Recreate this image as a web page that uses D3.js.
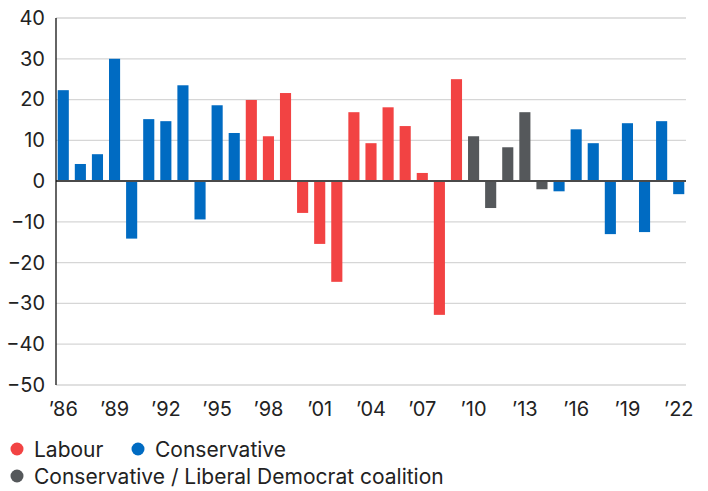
<!DOCTYPE html>
<html>
<head>
<meta charset="utf-8">
<script src="https://cdn.jsdelivr.net/npm/d3@7"></script>
<style>
  body { margin: 0; background: #fff; }
  svg { font-family: Inter, "Liberation Sans", sans-serif; }
</style>
</head>
<body>
<svg></svg>
<script>
// years and their values, party in power per year
let years = d3.range(1986, 2023);
let values = [22.3, 4.2, 6.6, 30, -14.1, 15.2, 14.7, 23.5, -9.4, 18.6, 11.8,
              19.9, 11.0, 21.6, -7.8, -15.4, -24.7, 16.9, 9.3, 18.1, 13.5, 2.0, -32.8, 25.0,
              11.0, -6.6, 8.3, 16.9, -2.0,
              -2.5, 12.7, 9.3, -13.0, 14.2, -12.5, 14.7, -3.2];
let parties = ["C","C","C","C","C","C","C","C","C","C","C",
               "L","L","L","L","L","L","L","L","L","L","L","L","L",
               "G","G","G","G","G",
               "C","C","C","C","C","C","C","C"];
let yTicks = [40, 30, 20, 10, 0, -10, -20, -30, -40, -50];
let tickYears = d3.range(1986, 2023, 3);

let colors = { L: "#f24343", C: "#006bc2", G: "#55585b" };

let width = 708, height = 491;
let plotLeft = 56, plotRight = 686, plotTop = 18, plotBottom = 385;

let svg = d3.select("svg").attr("width", width).attr("height", height);

let xScale = d3.scaleBand()
    .domain(years)
    .range([plotLeft, plotRight])
    .paddingInner(0.35)
    .paddingOuter(0.1);

let yScale = d3.scaleLinear()
    .domain([-50, 40])
    .range([plotBottom, plotTop]);

// gridlines
svg.append("g")
   .selectAll("line")
   .data(yTicks)
   .enter()
   .append("line")
   .attr("x1", plotLeft)
   .attr("x2", plotRight)
   .attr("y1", d => yScale(d))
   .attr("y2", d => yScale(d))
   .attr("stroke", "#d6d6d6")
   .attr("stroke-width", 1.3);

// y axis labels
let yAxis = d3.axisLeft(yScale).tickValues(yTicks).tickSize(0).tickPadding(11);
svg.append("g")
   .attr("transform", "translate(" + plotLeft + ",0)")
   .call(yAxis)
   .call(g => g.select(".domain").remove())
   .selectAll("text")
   .attr("font-size", 20)
   .attr("font-family", "Inter, 'Liberation Sans', sans-serif")
   .attr("fill", "#222");

// bars
svg.append("g")
   .selectAll("rect")
   .data(values)
   .enter()
   .append("rect")
   .attr("x", (d, i) => xScale(years[i]))
   .attr("width", xScale.bandwidth())
   .attr("y", d => yScale(Math.max(0, d)))
   .attr("height", d => Math.abs(yScale(d) - yScale(0)))
   .attr("fill", (d, i) => colors[parties[i]]);

// zero line
svg.append("line")
   .attr("x1", plotLeft).attr("x2", plotRight)
   .attr("y1", yScale(0)).attr("y2", yScale(0))
   .attr("stroke", "#4a4a4a")
   .attr("stroke-width", 2);

// left axis line
svg.append("line")
   .attr("x1", plotLeft).attr("x2", plotLeft)
   .attr("y1", plotTop).attr("y2", plotBottom)
   .attr("stroke", "#111")
   .attr("stroke-width", 1.3);

// x axis labels
let xAxis = d3.axisBottom(xScale)
    .tickValues(tickYears)
    .tickSize(0)
    .tickPadding(17)
    .tickFormat(d => "\u2019" + String(d).slice(2));
svg.append("g")
   .attr("transform", "translate(0," + plotBottom + ")")
   .call(xAxis)
   .call(g => g.select(".domain").remove())
   .selectAll("text")
   .attr("font-size", 20)
   .attr("font-family", "Inter, 'Liberation Sans', sans-serif")
   .attr("fill", "#222");

// legend
let legendItems = [
  { label: "Labour", key: "L", x: 17, y: 449 },
  { label: "Conservative", key: "C", x: 138, y: 449 },
  { label: "Conservative / Liberal Democrat coalition", key: "G", x: 17, y: 476 }
];
let legend = svg.append("g").selectAll("g").data(legendItems).enter().append("g");
legend.append("circle")
   .attr("cx", d => d.x)
   .attr("cy", d => d.y)
   .attr("r", 6.5)
   .attr("fill", d => colors[d.key]);
legend.append("text")
   .attr("x", d => d.x + 17)
   .attr("y", d => d.y)
   .attr("dy", "0.36em")
   .attr("font-size", 21)
   .attr("fill", "#222")
   .text(d => d.label);
</script>
</body>
</html>
